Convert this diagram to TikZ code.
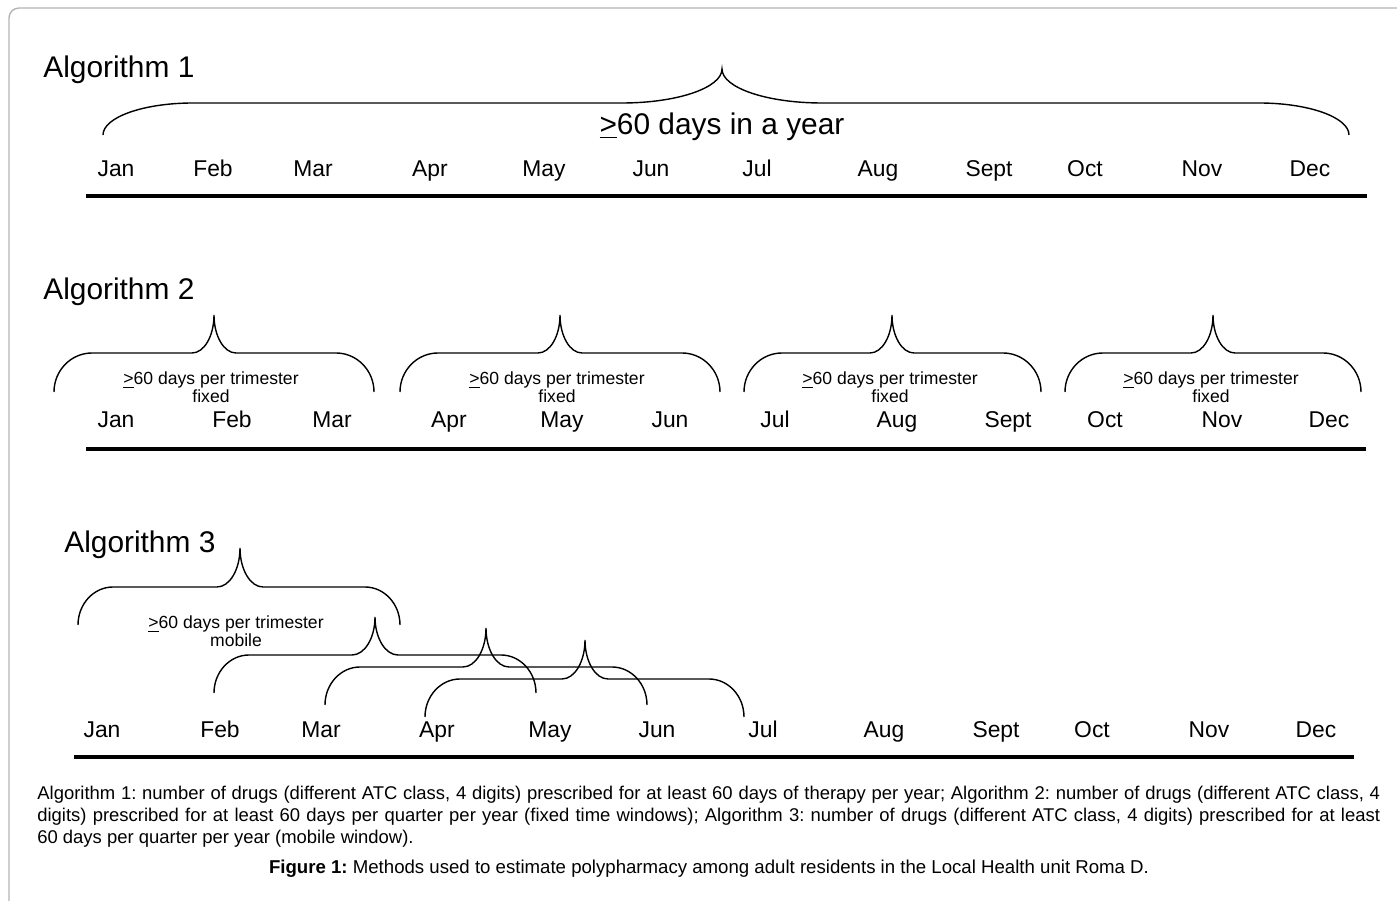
\documentclass[tikz,border=0pt]{standalone}
\usepackage{fontspec}
\setmainfont{Liberation Sans}
\usepackage{tikz}
\definecolor{frameGray}{HTML}{B4B4B4}
\frenchspacing

% brace over a span of months: left x, right x, end y, line y, tip x, tip y, corner, tip half width
\newcommand{\spanbrace}[8]{%
\draw[bracepath] (#1,#3) .. controls (#1,{#3-0.552*(#3-#4)}) and ({#1+0.448*#7},#4) .. ({#1+#7},#4)
  -- ({#5-#8},#4) .. controls ({#5-0.448*#8},#4) and (#5,{#6+0.552*(#4-#6)}) .. (#5,#6)
  .. controls (#5,{#6+0.552*(#4-#6)}) and ({#5+0.448*#8},#4) .. ({#5+#8},#4)
  -- ({#2-#7},#4) .. controls ({#2-0.448*#7},#4) and (#2,{#3-0.552*(#3-#4)}) .. (#2,#3);}

\begin{document}
\begin{tikzpicture}[
x=0.02cm, y=-0.02cm,
month/.style={
anchor=base,
inner sep=0pt,
font=\fontsize{13}{15}\selectfont
},
algtitle/.style={anchor=base west, inner sep=0pt, font=\fontsize{17}{20}\selectfont},
rangelabel/.style={anchor=base, inner sep=0pt, align=center, font=\fontsize{10}{10.4}\selectfont},
timeline/.style={line width=2.8pt},
bracepath/.style={line width=0.8pt}
]

\useasboundingbox[fill=white] (0,0) rectangle (1397,901);
\draw[frameGray, line width=0.8pt, rounded corners=0.2cm] (9,901) -- (9,8) -- (1397,8);

% Algorithm 1
\node[algtitle] (alg1) at (43,78) {Algorithm 1};
\spanbrace{103}{1349}{135}{103}{722}{69}{90}{100}
\node[anchor=base, inner sep=0pt, font=\fontsize{17}{20}\selectfont] (year1) at (722,135) {\underline{>}60 days in a year};

\node[month] (jan1) at (116,177) {Jan};
\node[month] (feb1) at (213,177) {Feb};
\node[month] (mar1) at (313,177) {Mar};
\node[month] (apr1) at (430,177) {Apr};
\node[month] (may1) at (544,177) {May};
\node[month] (jun1) at (651,177) {Jun};
\node[month] (jul1) at (757,177) {Jul};
\node[month] (aug1) at (878,177) {Aug};
\node[month] (sep1) at (989,177) {Sept};
\node[month] (oct1) at (1085,177) {Oct};
\node[month] (nov1) at (1202,177) {Nov};
\node[month] (dec1) at (1310,177) {Dec};
\draw[timeline] (86,196) -- (1367,196);

% Algorithm 2
\node[algtitle] (alg2) at (43,300) {Algorithm 2};
\spanbrace{54}{374}{392}{353}{214}{315}{38}{22}
\spanbrace{400}{720}{392}{353}{560}{315}{38}{22}
\spanbrace{744}{1041}{392}{353}{892}{315}{38}{22}
\spanbrace{1065}{1361}{392}{353}{1213}{315}{38}{22}
\node[rangelabel] (q1) at (211,403) {\underline{>}60 days per trimester\\fixed};
\node[rangelabel] (q2) at (557,403) {\underline{>}60 days per trimester\\fixed};
\node[rangelabel] (q3) at (890,403) {\underline{>}60 days per trimester\\fixed};
\node[rangelabel] (q4) at (1211,403) {\underline{>}60 days per trimester\\fixed};

\node[month] (jan2) at (116,428) {Jan};
\node[month] (feb2) at (232,428) {Feb};
\node[month] (mar2) at (332,428) {Mar};
\node[month] (apr2) at (449,428) {Apr};
\node[month] (may2) at (562,428) {May};
\node[month] (jun2) at (670,428) {Jun};
\node[month] (jul2) at (775,428) {Jul};
\node[month] (aug2) at (897,428) {Aug};
\node[month] (sep2) at (1008,428) {Sept};
\node[month] (oct2) at (1105,428) {Oct};
\node[month] (nov2) at (1222,428) {Nov};
\node[month] (dec2) at (1329,428) {Dec};
\draw[timeline] (86,449) -- (1366,449);

% Algorithm 3
\node[algtitle] (alg3) at (64,553) {Algorithm 3};
\spanbrace{78}{400}{625}{587}{240}{548}{35}{23}
\spanbrace{214}{536}{693}{655}{375}{617}{35}{23}
\spanbrace{325}{647}{705}{667}{486}{628}{35}{23}
\spanbrace{425}{744}{717}{679}{585}{640}{35}{23}
\node[rangelabel] (mob) at (236,647) {\underline{>}60 days per trimester\\mobile};

\node[month] (jan3) at (102,738) {Jan};
\node[month] (feb3) at (220,738) {Feb};
\node[month] (mar3) at (321,738) {Mar};
\node[month] (apr3) at (437,738) {Apr};
\node[month] (may3) at (550,738) {May};
\node[month] (jun3) at (657,738) {Jun};
\node[month] (jul3) at (763,738) {Jul};
\node[month] (aug3) at (884,738) {Aug};
\node[month] (sep3) at (996,738) {Sept};
\node[month] (oct3) at (1092,738) {Oct};
\node[month] (nov3) at (1209,738) {Nov};
\node[month] (dec3) at (1316,738) {Dec};
\draw[timeline] (74,757) -- (1354,757);

% legend and caption
\node[anchor=north west, inner sep=0pt, text width=26.86cm, align=justify, font=\fontsize{10.5}{12.5}\selectfont] (legend) at (37,786)
{Algorithm 1: number of drugs (different ATC class, 4 digits) prescribed for at least 60 days of therapy per year; Algorithm 2: number of drugs (different ATC class, 4\linebreak digits) prescribed for at least 60 days per quarter per year (fixed time windows); Algorithm 3:  number of drugs (different ATC class, 4 digits) prescribed for at least\linebreak 60 days per quarter per year (mobile window).};
\node[anchor=base, inner sep=0pt, font=\fontsize{10.6}{12}\selectfont] (figcap) at (709,874)
{\textbf{Figure 1:} Methods used to estimate polypharmacy among adult residents in the Local Health unit Roma D.};

\end{tikzpicture}
\end{document}
